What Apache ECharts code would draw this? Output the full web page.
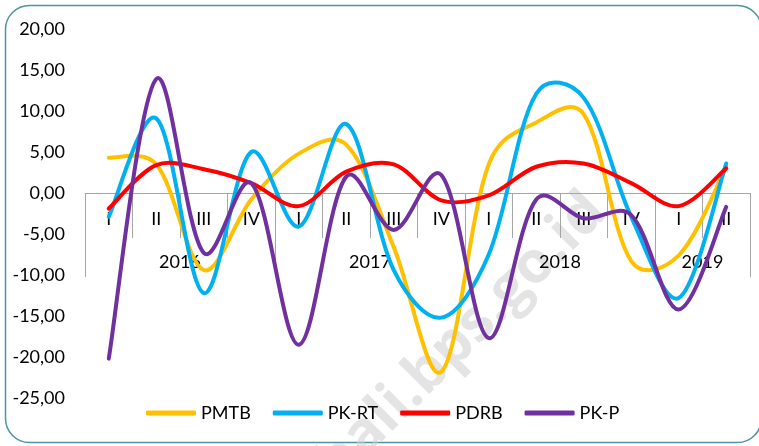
<!DOCTYPE html>
<html>
<head>
<meta charset="utf-8">
<script src="https://cdn.jsdelivr.net/npm/echarts@6/dist/echarts.min.js"></script>
<style>
html,body{margin:0;padding:0;background:#fff;}
#chart{width:759px;height:446px;}
</style>
</head>
<body>
<div id="chart"></div>
<script>
// ---- data ----
var quarters = ['I','II','III','IV','I','II','III','IV','I','II','III','IV','I','II'];
var years = ['2016','2017','2018','2019'];
var quartersPerYear = [4,4,4,2];
var yTicks = [-25,-20,-15,-10,-5,0,5,10,15,20];

var pmtb = [4.3, 3.5, -9.4, -0.8, 4.8, 5.9, -6.6, -21.8, 3.5, 8.6, 9.6, -8.3, -7.6, 3.2];
var pkrt = [-2.9, 9.1, -12.2, 5.0, -4.1, 8.4, -9.4, -15.2, -7.5, 12.1, 11.6, -2.9, -12.8, 3.6];
var pdrb = [-1.9, 3.4, 2.9, 1.2, -1.6, 2.6, 3.5, -0.9, -0.3, 3.2, 3.6, 1.2, -1.6, 3.0];
var pkp  = [-20.2, 13.9, -7.3, 1.2, -18.5, 2.0, -4.5, 2.2, -17.7, -0.8, -3.1, -2.7, -14.2, -1.7];

var seriesNames = ['PMTB','PK-RT','PDRB','PK-P'];
var seriesColors = ['#FFC000','#00B0F0','#FF0000','#7030A0'];
var seriesData = [pmtb, pkrt, pdrb, pkp];

// ---- layout ----
var GRID_TOP = 29, GRID_BOTTOM = 48, H = 446;
var yMin = yTicks[0], yMax = yTicks[yTicks.length - 1];
var gridHeight = H - GRID_TOP - GRID_BOTTOM;
var zeroOffset = -gridHeight * (0 - yMin) / (yMax - yMin);

// year axis: half-quarter points (boundaryGap false), labels at group centres
var yearAxisData = [''];
var yearBoundaries = {0: true};
var pos = 0;
for (var i = 0; i < years.length; i++) {
  var span = quartersPerYear[i] * 2;
  for (var k = 1; k <= span; k++) yearAxisData.push(k === span / 2 ? years[i] : '');
  pos += span;
  yearBoundaries[pos] = true;
}

// smooth path through the points (pixel space from the axes)
function makeRenderer(values) {
  return function (params, api) {
    if (params.dataIndex !== 0) return null;
    var p = values.map(function (v, j) { return api.coord([j, v]); });
    var n = p.length;
    var cpPrev = [], cpNext = [];
    for (var j = 0; j < n; j++) {
      var a = p[j - 1] || p[j], b = p[j], c = p[j + 1] || p[j];
      var vx = c[0] - a[0], vy = c[1] - a[1];
      var l0 = Math.hypot(b[0] - a[0], b[1] - a[1]);
      var l1 = Math.hypot(c[0] - b[0], c[1] - b[1]);
      var rn = 0.5, rp = 0.5;
      if (l0 > 0 && l1 > 0) {
        rn = 0.25 + 0.5 * l1 / (l0 + l1);
        rp = 0.25 + 0.5 * l0 / (l0 + l1);
      }
      cpNext[j] = [b[0] + vx * rn / 3, b[1] + vy * rn / 3];
      cpPrev[j] = [b[0] - vx * rp / 3, b[1] - vy * rp / 3];
    }
    var d = 'M' + p[0][0] + ' ' + p[0][1];
    for (var j2 = 0; j2 < n - 1; j2++) {
      d += ' C' + cpNext[j2][0] + ' ' + cpNext[j2][1] + ' ' +
           cpPrev[j2 + 1][0] + ' ' + cpPrev[j2 + 1][1] + ' ' +
           p[j2 + 1][0] + ' ' + p[j2 + 1][1];
    }
    return {
      type: 'path',
      shape: {pathData: d},
      style: {fill: 'none', stroke: api.visual('color'), lineWidth: 4, lineCap: 'round', lineJoin: 'round'}
    };
  };
}

var FONT = 'Lato, "Open Sans", sans-serif';
var chart = echarts.init(document.getElementById('chart'), null, {renderer: 'canvas'});

chart.setOption({
  animation: false,
  backgroundColor: '#ffffff',
  textStyle: {fontFamily: FONT},
  graphic: [
    {
      type: 'rect', z: -10, silent: true,
      shape: {x: 5.5, y: 5.5, width: 756, height: 437, r: 24},
      style: {fill: 'none', stroke: '#4B94A6', lineWidth: 1.5}
    },
    {
      type: 'text', z: -5, silent: true,
      x: 462, y: 338, rotation: Math.PI / 4,
      style: {
        text: 'bali.bps.go.id', fill: 'rgba(205,205,205,0.55)',
        font: 'bold 58px "Open Sans", sans-serif',
        align: 'center', verticalAlign: 'middle'
      }
    }
  ],
  grid: {left: 85, right: 9, top: GRID_TOP, bottom: GRID_BOTTOM, containLabel: false},
  legend: {
    left: 141, top: 399,
    itemWidth: 50, itemHeight: 5, itemGap: 22,
    icon: 'roundRect',
    textStyle: {fontSize: 18, color: '#000', fontFamily: FONT},
    data: seriesNames
  },
  xAxis: [
    {
      type: 'category', position: 'bottom', data: quarters, boundaryGap: true,
      offset: zeroOffset,
      axisLine: {show: true, onZero: false, lineStyle: {color: '#A6A6A6', width: 1}},
      axisTick: {show: true, interval: 0, length: 45, lineStyle: {color: '#A6A6A6', width: 1}},
      axisLabel: {interval: 0, margin: 17, fontSize: 18, color: '#000', fontFamily: FONT},
      splitLine: {show: false}
    },
    {
      type: 'category', position: 'bottom', data: yearAxisData, boundaryGap: false,
      offset: zeroOffset,
      axisLine: {show: false, onZero: false},
      axisTick: {
        show: true, length: 84,
        interval: function (idx) { return !!yearBoundaries[idx]; },
        lineStyle: {color: '#A6A6A6', width: 1}
      },
      axisLabel: {
        margin: 60, fontSize: 18, color: '#000', fontFamily: FONT,
        interval: function (idx, val) { return val !== ''; }
      },
      splitLine: {show: false}
    }
  ],
  yAxis: {
    type: 'value', min: yMin, max: yMax, interval: 5,
    axisLine: {show: false}, axisTick: {show: false}, splitLine: {show: false},
    axisLabel: {
      margin: 20, fontSize: 18, color: '#000', fontFamily: FONT,
      formatter: function (v) { return v.toFixed(2).replace('.', ','); }
    }
  },
  series: seriesNames.map(function (name, i) {
    return {
      name: name, type: 'custom', xAxisIndex: 0, yAxisIndex: 0,
      data: seriesData[i].map(function (v, j) { return [j, v]; }),
      encode: {x: 0, y: 1},
      renderItem: makeRenderer(seriesData[i]),
      itemStyle: {color: seriesColors[i]},
      z: 2 + (i === 3 ? 1 : 0)
    };
  })
});
</script>
</body>
</html>
